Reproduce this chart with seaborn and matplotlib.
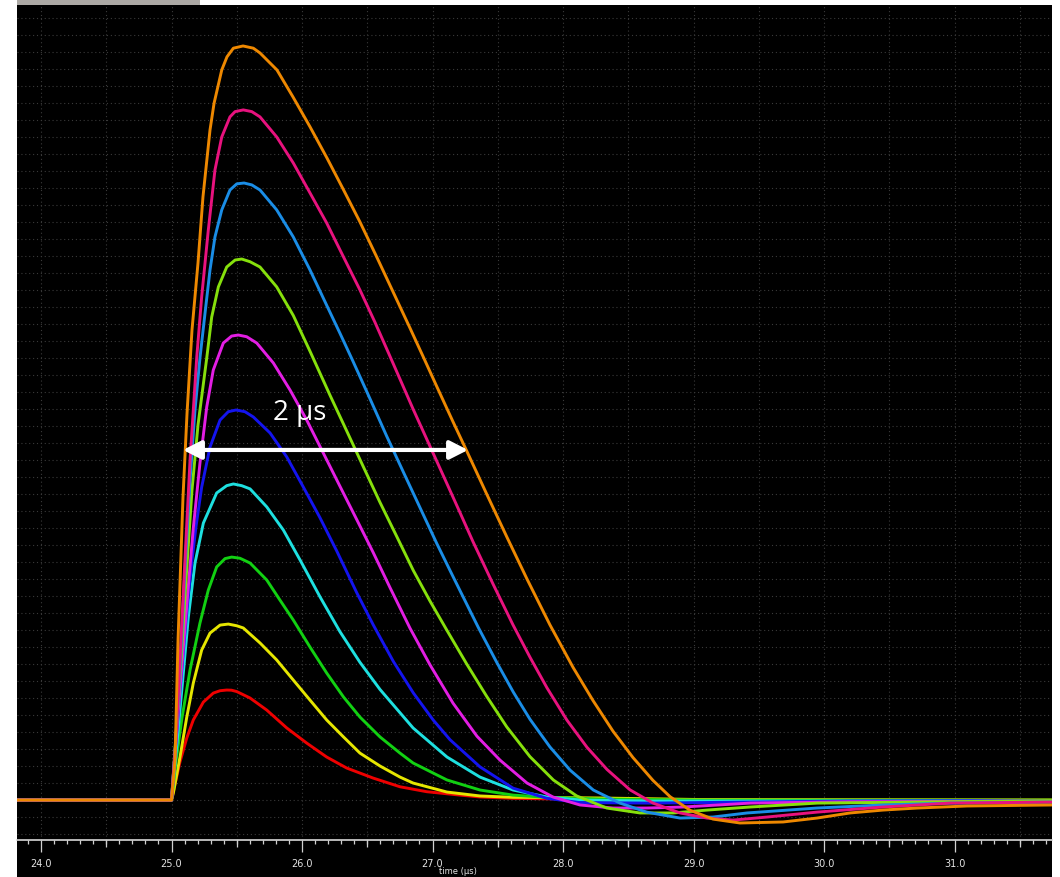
import numpy as np
import pandas as pd
import matplotlib
matplotlib.use("Agg")
import matplotlib.pyplot as plt
from matplotlib.patches import Rectangle
from matplotlib.ticker import MultipleLocator, FormatStrFormatter
import seaborn as sns

# ---- data: time (µs) and amplitude (grid divisions) ----
t_red = [23.8, 25.0, 25.034, 25.065, 25.117, 25.167, 25.244, 25.32, 25.372, 25.423, 25.46, 25.5, 25.602, 25.73,
         25.883, 26.036, 26.189, 26.343, 26.546, 26.751, 26.956, 27.211, 27.364, 27.617, 28.284, 31.75]
v_red = [0, 0, 1.18, 2.24, 3.65, 4.71, 5.76, 6.29, 6.43, 6.47, 6.46, 6.38, 6.0, 5.29,
         4.24, 3.35, 2.53, 1.88, 1.29, 0.78, 0.49, 0.29, 0.18, 0.1, 0.03, 0.0]

t_yellow = [23.8, 25.0, 25.014, 25.065, 25.117, 25.167, 25.231, 25.295, 25.372, 25.435, 25.5, 25.55, 25.678,
            25.806, 25.933, 26.061, 26.189, 26.318, 26.444, 26.598, 26.751, 26.851, 27.111, 27.364, 27.617,
            27.9, 28.284, 29.049, 31.75]
v_yellow = [0, 0, 0.41, 2.53, 4.88, 6.88, 8.82, 9.82, 10.29, 10.35, 10.25, 10.12, 9.24,
            8.24, 7.06, 5.88, 4.71, 3.71, 2.76, 2.0, 1.35, 1.0, 0.47, 0.24, 0.16,
            0.15, 0.12, 0.03, 0.0]

t_green = [23.8, 25.0, 25.034, 25.08, 25.142, 25.218, 25.282, 25.346, 25.41, 25.461, 25.525, 25.602, 25.73,
           25.831, 25.933, 26.061, 26.189, 26.318, 26.444, 26.598, 26.751, 26.851, 27.111, 27.364, 27.617,
           27.877, 28.284, 29.049, 31.75]
v_green = [0, 0, 2.24, 4.82, 7.65, 10.41, 12.35, 13.71, 14.2, 14.29, 14.22, 13.94, 12.94,
           11.76, 10.59, 9.0, 7.47, 6.06, 4.88, 3.71, 2.76, 2.18, 1.18, 0.59, 0.29,
           0.16, 0.06, 0.0, 0.0]

t_cyan = [23.8, 25.0, 25.034, 25.065, 25.096, 25.129, 25.18, 25.244, 25.346, 25.423, 25.474, 25.538, 25.602,
          25.73, 25.857, 25.985, 26.138, 26.291, 26.444, 26.598, 26.851, 27.111, 27.364, 27.617, 27.877,
          28.13, 28.667, 29.816, 31.75]
v_cyan = [0, 0, 2.65, 5.29, 7.94, 10.76, 13.94, 16.29, 18.06, 18.49, 18.59, 18.49, 18.3,
          17.24, 15.88, 14.12, 11.95, 9.9, 8.1, 6.5, 4.24, 2.53, 1.35, 0.59, 0.18,
          0.0, -0.06, -0.06, -0.03]

t_blue = [23.8, 25.0, 25.034, 25.065, 25.096, 25.126, 25.157, 25.188, 25.231, 25.295, 25.372, 25.435, 25.494,
          25.563, 25.627, 25.755, 25.883, 26.01, 26.138, 26.266, 26.419, 26.546, 26.7, 26.853, 27.006,
          27.134, 27.364, 27.617, 27.877, 28.13, 28.667, 29.433, 30.199, 31.75]
v_blue = [0, 0, 3.4, 6.4, 9.2, 11.8, 14.1, 16.1, 18.4, 20.76, 22.35, 22.84, 22.94,
          22.84, 22.53, 21.59, 20.18, 18.41, 16.6, 14.65, 12.2, 10.3, 8.15, 6.3, 4.7,
          3.55, 1.95, 0.7, 0.1, -0.15, -0.18, -0.12, -0.06, -0.03]

t_magenta = [23.8, 25.0, 25.034, 25.065, 25.096, 25.129, 25.167, 25.218, 25.27, 25.32, 25.397, 25.461, 25.512,
             25.576, 25.653, 25.78, 25.908, 26.036, 26.163, 26.291, 26.419, 26.546, 26.674, 26.828, 26.981,
             27.157, 27.341, 27.517, 27.724, 27.923, 28.13, 28.383, 28.644, 28.92, 29.433, 30.199, 31.75]
v_magenta = [0, 0, 3.53, 6.6, 9.5, 12.6, 16.0, 19.82, 23.12, 25.29, 26.88, 27.29, 27.35,
             27.25, 26.88, 25.71, 24.12, 22.35, 20.41, 18.45, 16.5, 14.55, 12.5, 10.1, 7.95,
             5.7, 3.75, 2.35, 1.0, 0.18, -0.29, -0.47, -0.47, -0.41, -0.18, -0.1, -0.06]

t_yellowgreen = [23.8, 25.0, 25.034, 25.073, 25.111, 25.157, 25.203, 25.27, 25.308, 25.359, 25.423, 25.487, 25.538,
                 25.602, 25.678, 25.806, 25.933, 26.061, 26.215, 26.343, 26.47, 26.598, 26.726, 26.853, 26.981,
                 27.109, 27.262, 27.415, 27.569, 27.747, 27.926, 28.105, 28.335, 28.59, 28.843, 29.103, 29.433,
                 29.946, 30.713, 31.75]
v_yellowgreen = [0, 0, 3.82, 8.24, 12.94, 18.24, 22.06, 26.0, 28.41, 30.18, 31.35, 31.76, 31.82,
                 31.66, 31.35, 30.18, 28.5, 26.4, 23.8, 21.7, 19.6, 17.5, 15.5, 13.5, 11.7,
                 10.0, 8.0, 6.1, 4.3, 2.55, 1.18, 0.24, -0.47, -0.76, -0.76, -0.59, -0.41,
                 -0.18, -0.12, -0.03]

t_azure = [23.8, 25.0, 25.034, 25.065, 25.103, 25.142, 25.18, 25.218, 25.257, 25.295, 25.333, 25.385, 25.448,
           25.5, 25.556, 25.615, 25.678, 25.806, 25.933, 26.061, 26.189, 26.291, 26.391, 26.521, 26.649,
           26.776, 26.904, 27.032, 27.16, 27.351, 27.492, 27.619, 27.747, 27.9, 28.054, 28.232, 28.437,
           28.641, 28.897, 29.149, 29.41, 29.946, 30.452, 30.966, 31.75]
v_azure = [0, 0, 3.53, 7.65, 13.53, 18.82, 22.94, 26.0, 28.65, 31.18, 33.12, 34.71, 35.88,
           36.24, 36.29, 36.18, 35.88, 34.71, 33.12, 31.18, 29.1, 27.45, 25.8, 23.6, 21.4,
           19.3, 17.2, 15.1, 13.1, 10.15, 8.1, 6.35, 4.75, 3.12, 1.76, 0.59, -0.18,
           -0.71, -1.06, -1.0, -0.76, -0.47, -0.29, -0.18, -0.12]

t_pink = [23.8, 25.0, 25.034, 25.065, 25.103, 25.142, 25.193, 25.231, 25.282, 25.333, 25.385, 25.448, 25.487,
          25.55, 25.615, 25.678, 25.806, 25.933, 26.061, 26.189, 26.318, 26.444, 26.559, 26.697, 26.851,
          26.981, 27.111, 27.211, 27.31, 27.464, 27.617, 27.747, 27.877, 28.03, 28.184, 28.337, 28.513,
          28.69, 28.897, 29.103, 29.303, 29.563, 29.946, 30.452, 30.966, 31.75]
v_pink = [0, 0, 3.53, 8.24, 14.12, 20.0, 26.0, 29.59, 33.53, 37.06, 39.0, 40.18, 40.49,
          40.59, 40.49, 40.18, 39.0, 37.47, 35.71, 33.94, 31.94, 30.0, 28.1, 25.7, 23.0,
          20.8, 18.6, 16.9, 15.2, 12.7, 10.3, 8.4, 6.6, 4.7, 3.1, 1.8, 0.6,
          -0.18, -0.76, -1.06, -1.18, -1.0, -0.71, -0.41, -0.18, -0.12]

t_orange = [23.8, 25.0, 25.027, 25.05, 25.088, 25.119, 25.157, 25.203, 25.241, 25.295, 25.326, 25.385, 25.425,
            25.474, 25.548, 25.627, 25.678, 25.808, 25.931, 26.061, 26.192, 26.314, 26.444, 26.575, 26.697,
            26.828, 26.927, 27.034, 27.157, 27.264, 27.418, 27.571, 27.724, 27.9, 28.077, 28.23, 28.383,
            28.536, 28.69, 28.82, 28.973, 29.149, 29.356, 29.686, 29.946, 30.199, 30.452, 30.713, 31.096, 31.75]
v_orange = [0, 0, 2.35, 9.41, 17.82, 22.76, 27.65, 31.59, 35.47, 39.41, 40.98, 42.94, 43.71,
            44.22, 44.35, 44.22, 43.94, 42.94, 41.35, 39.6, 37.75, 35.95, 34.0, 31.9, 29.9,
            27.75, 26.1, 24.3, 22.25, 20.5, 17.95, 15.45, 13.0, 10.3, 7.8, 5.85, 4.05,
            2.5, 1.15, 0.2, -0.6, -1.12, -1.35, -1.29, -1.06, -0.76, -0.59, -0.47, -0.35, -0.29]

series_names = ["red", "yellow", "green", "cyan", "blue", "magenta", "yellowgreen", "azure", "pink", "orange"]
series_t = [t_red, t_yellow, t_green, t_cyan, t_blue, t_magenta, t_yellowgreen, t_azure, t_pink, t_orange]
series_v = [v_red, v_yellow, v_green, v_cyan, v_blue, v_magenta, v_yellowgreen, v_azure, v_pink, v_orange]
series_colors = ["#ee0000", "#e6e600", "#12d012", "#1ee0e0", "#1414ee", "#e31ee3",
                 "#86e00c", "#1a8de6", "#e8127e", "#ee8800"]

x_tick_values = [24.0, 25.0, 26.0, 27.0, 28.0, 29.0, 30.0, 31.0]
x_half_ticks = [24.5, 25.5, 26.5, 27.5, 28.5, 29.5, 30.5, 31.5]
arrow_start, arrow_end, arrow_level = 25.088, 27.272, 20.59
arrow_label = "2 µs"
x_label = "time (µs)"

# ---- figure ----
sns.set_theme(style="dark")
plt.rcParams["font.family"] = ["DejaVu Sans"]

W, H = 1060, 877
fig = plt.figure(figsize=(W / 100, H / 100), dpi=100, facecolor="white")
fig.patches.append(Rectangle((17 / W, 0), (1052 - 17) / W, 872 / H, transform=fig.transFigure,
                             facecolor="black", edgecolor="none", zorder=-10))
fig.patches.append(Rectangle((17 / W, 872 / H), (200 - 17) / W, 5 / H, transform=fig.transFigure,
                             facecolor="#aca9a5", edgecolor="none", zorder=-10))

ax = fig.add_axes([17 / W, 37 / H, 1035 / W, 835 / H])
ax.set_facecolor("black")
ax.set_zorder(1)

grid_kw = dict(color="#3a3a3a", lw=0.8, ls=(0, (1, 2.5)), zorder=0.5)
for gx in np.arange(24.0, 32.0, 0.5):
    ax.axvline(gx, **grid_kw)
for gy in range(-2, 47):
    ax.axhline(gy, **grid_kw)

frames = []
for name, tt, vv in zip(series_names, series_t, series_v):
    frames.append(pd.DataFrame({"t": tt, "v": vv, "series": name}))
df = pd.concat(frames, ignore_index=True)

sns.lineplot(data=df, x="t", y="v", hue="series", hue_order=series_names,
             palette=dict(zip(series_names, series_colors)), estimator=None, sort=False,
             legend=False, lw=2.1, ax=ax)
for line in ax.get_lines():
    line.set_solid_joinstyle("round")

ax.annotate("", xy=(arrow_start, arrow_level), xytext=(arrow_end, arrow_level),
            arrowprops=dict(arrowstyle="<|-|>,head_length=0.55,head_width=0.28", color="white",
                            lw=3, mutation_scale=20, shrinkA=0, shrinkB=0), zorder=5)
ax.text((arrow_start + arrow_end) / 2 - 0.2, 22.76, arrow_label, color="white", fontsize=20,
        family=["Open Sans", "DejaVu Sans"], ha="center", va="center", zorder=5)

ax.set_xlim(23.816, 31.747)
ax.set_ylim(-2.35, 46.76)
ax.set_yticks([])
ax.set_xticks(x_tick_values)
ax.xaxis.set_major_formatter(FormatStrFormatter("%.1f"))
ax.xaxis.set_minor_locator(MultipleLocator(0.1))
ax.tick_params(axis="x", which="major", bottom=True, direction="out", length=8.6, width=0.9,
               color="#d0d0d0", labelcolor="#e4e4e4", labelsize=7, pad=5)
ax.tick_params(axis="x", which="minor", bottom=True, direction="out", length=2.6, width=0.9,
               color="#d0d0d0")
ax.set_xlabel("")
ax.set_ylabel("")
for side in ["left", "right", "top"]:
    ax.spines[side].set_visible(False)
ax.spines["bottom"].set_color("#d8d8d8")
ax.spines["bottom"].set_linewidth(1.2)

sec = ax.secondary_xaxis("bottom")
sec.set_xticks(x_half_ticks)
sec.tick_params(axis="x", bottom=True, direction="out", length=5, width=0.9, color="#d0d0d0",
                labelbottom=False)
sec.spines["bottom"].set_visible(False)

fig.text(458 / W, 0.5 / H, x_label, color="#e4e4e4", fontsize=6, ha="center", va="bottom", zorder=2)

fig.savefig("out.png", dpi=100, facecolor="white")
